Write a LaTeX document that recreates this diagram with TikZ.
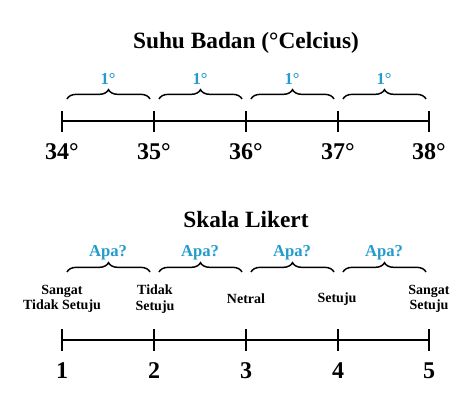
\documentclass[tikz,border=0pt]{standalone}
\usepackage{fontspec}
\setmainfont{Liberation Serif}
\usetikzlibrary{decorations.pathreplacing}
\definecolor{apablue}{RGB}{35,155,205}

\begin{document}
\begin{tikzpicture}[x=0.75pt,y=-0.75pt,line width=1.5pt,
  title node/.style={font=\fontsize{17.5}{19}\selectfont\bfseries},
  tick label/.style={font=\fontsize{18}{20}\selectfont\bfseries},
  brace label/.style={font=\fontsize{12.5}{14}\selectfont\bfseries,text=apablue},
  likert label/.style={font=\fontsize{10.5}{11.5}\selectfont\bfseries,align=center},
  gap brace/.style={decorate,decoration={brace,amplitude=7pt},line width=1.1pt}]

  \useasboundingbox (0,0) rectangle (474,412);

  % suhu badan
  \node[title node] (suhu) at (246,43) {Suhu Badan (°Celcius)};
  \coordinate (t0) at (62,121);
  \coordinate (t1) at (154,121);
  \coordinate (t2) at (246,121);
  \coordinate (t3) at (338,121);
  \coordinate (t4) at (429,121);
  \draw (t0) -- (t4);
  \draw (t0) ++(0,-10) -- ++(0,21);
  \draw (t1) ++(0,-10) -- ++(0,21);
  \draw (t2) ++(0,-10) -- ++(0,21);
  \draw (t3) ++(0,-10) -- ++(0,21);
  \draw (t4) ++(0,-10) -- ++(0,21);
  \node[tick label] (n34) at (62,152) {34°};
  \node[tick label] (n35) at (154,152) {35°};
  \node[tick label] (n36) at (246,152) {36°};
  \node[tick label] (n37) at (338,152) {37°};
  \node[tick label] (n38) at (429,152) {38°};
  \draw[gap brace] (67,99) -- (150,99);
  \draw[gap brace] (159,99) -- (242,99);
  \draw[gap brace] (251,99) -- (334,99);
  \draw[gap brace] (343,99) -- (426,99);
  \node[brace label] (d1) at (108,79) {1°};
  \node[brace label] (d2) at (200,79) {1°};
  \node[brace label] (d3) at (292,79) {1°};
  \node[brace label] (d4) at (384,79) {1°};

  % skala likert
  \node[title node] (likert) at (246,220) {Skala Likert};
  \coordinate (b0) at (62,340);
  \coordinate (b1) at (154,340);
  \coordinate (b2) at (246,340);
  \coordinate (b3) at (338,340);
  \coordinate (b4) at (429,340);
  \draw (b0) -- (b4);
  \draw (b0) ++(0,-11) -- ++(0,22);
  \draw (b1) ++(0,-11) -- ++(0,22);
  \draw (b2) ++(0,-11) -- ++(0,22);
  \draw (b3) ++(0,-11) -- ++(0,22);
  \draw (b4) ++(0,-11) -- ++(0,22);
  \node[tick label] (n1) at (62,371) {1};
  \node[tick label] (n2) at (154,371) {2};
  \node[tick label] (n3) at (246,371) {3};
  \node[tick label] (n4) at (338,371) {4};
  \node[tick label] (n5) at (429,371) {5};
  \node[likert label] (sts) at (62,299) {Sangat\\Tidak Setuju};
  \node[likert label] (ts) at (155,299) {Tidak\\Setuju};
  \node[likert label] (ne) at (246,299) {Netral};
  \node[likert label] (se) at (337,299) {Setuju};
  \node[likert label] (ss) at (429,299) {Sangat\\Setuju};
  \draw[gap brace] (67,272) -- (150,272);
  \draw[gap brace] (159,272) -- (242,272);
  \draw[gap brace] (251,272) -- (334,272);
  \draw[gap brace] (343,272) -- (426,272);
  \node[brace label] (a1) at (108,253) {Apa?};
  \node[brace label] (a2) at (200,253) {Apa?};
  \node[brace label] (a3) at (292,253) {Apa?};
  \node[brace label] (a4) at (384,253) {Apa?};
\end{tikzpicture}
\end{document}
